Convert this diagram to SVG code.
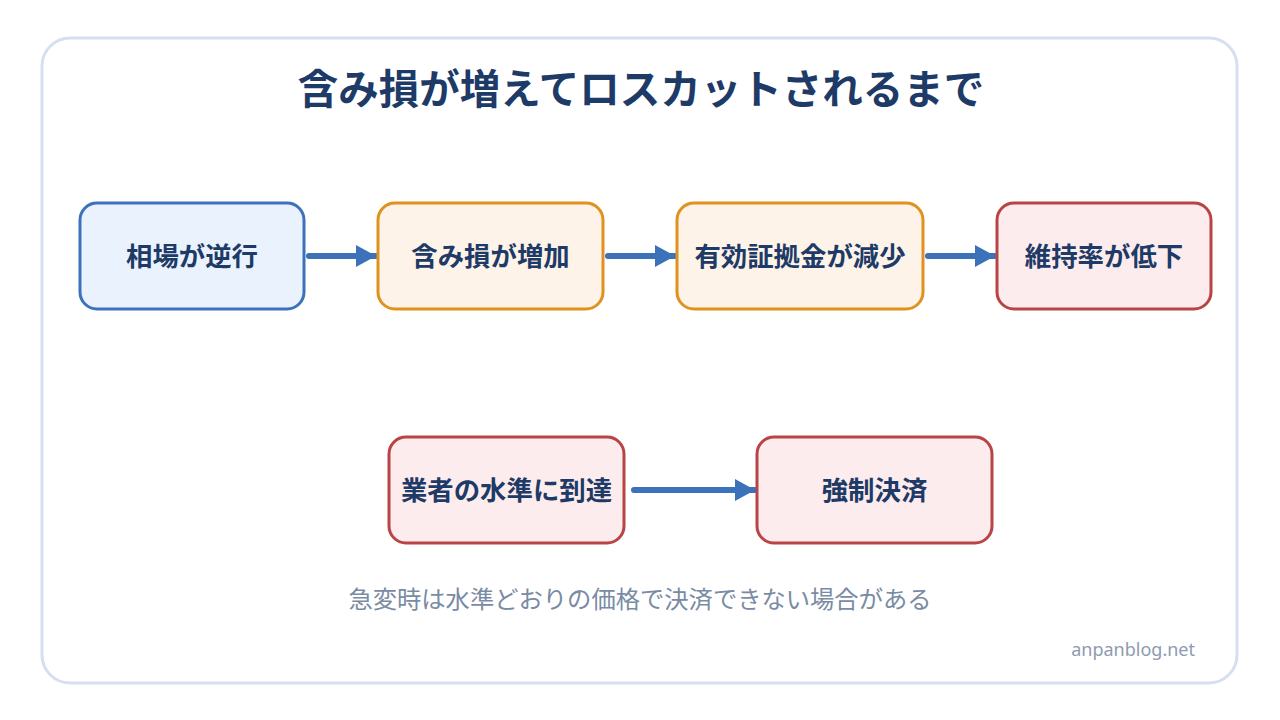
<svg xmlns="http://www.w3.org/2000/svg" width="1280" height="720" viewBox="0 0 1280 720">
<defs>
<style>
.node-blue{fill:#eaf2fd;stroke:#3b72b9;stroke-width:3}
.node-orange{fill:#fdf3e8;stroke:#e0911e;stroke-width:3}
.node-red{fill:#fdeced;stroke:#b94446;stroke-width:3}
.lbl{font-family:"Noto Sans CJK JP","Noto Sans",sans-serif;font-weight:700;font-size:26.4px;fill:#1e3a67;text-anchor:middle;dominant-baseline:central}
.conn{stroke:#3b72b9;stroke-width:6;stroke-linecap:round;fill:none}
</style>
<marker id="ah" markerUnits="userSpaceOnUse" markerWidth="24" markerHeight="24" refX="22" refY="12" orient="auto">
<path d="M2,1 L22,12 L2,23 Z" fill="#3b72b9"/>
</marker>
</defs>
<rect width="1280" height="720" fill="#ffffff"/>
<rect x="42" y="38" width="1195" height="645" rx="28" fill="#ffffff" stroke="#d6dfef" stroke-width="3"/>
<text x="641" y="86" font-family="'Noto Sans CJK JP','Noto Sans',sans-serif" font-weight="700" font-size="40.5" fill="#1e3a67" text-anchor="middle" dominant-baseline="central">含み損が増えてロスカットされるまで</text>
<g id="connectors">
<line class="conn" x1="309" y1="256" x2="376" y2="256" marker-end="url(#ah)"/>
<line class="conn" x1="608" y1="256" x2="675" y2="256" marker-end="url(#ah)"/>
<line class="conn" x1="928" y1="256" x2="995" y2="256" marker-end="url(#ah)"/>
<line class="conn" x1="634" y1="490" x2="755" y2="490" marker-end="url(#ah)"/>
</g>
<g id="n1"><rect class="node-blue" x="80" y="203" width="224" height="106" rx="17"/><text class="lbl" x="192" y="254">相場が逆行</text></g>
<g id="n2"><rect class="node-orange" x="378" y="203" width="225" height="106" rx="17"/><text class="lbl" x="490.5" y="254">含み損が増加</text></g>
<g id="n3"><rect class="node-orange" x="677" y="203" width="246" height="106" rx="17"/><text class="lbl" x="800" y="254">有効証拠金が減少</text></g>
<g id="n4"><rect class="node-red" x="997" y="203" width="214" height="106" rx="17"/><text class="lbl" x="1104" y="254">維持率が低下</text></g>
<g id="n5"><rect class="node-red" x="389" y="437" width="235" height="106" rx="17"/><text class="lbl" x="506.5" y="488">業者の水準に到達</text></g>
<g id="n6"><rect class="node-red" x="757" y="437" width="235" height="106" rx="17"/><text class="lbl" x="874.5" y="488">強制決済</text></g>
<text x="640" y="597" font-family="'Noto Sans CJK JP','Noto Sans',sans-serif" font-size="24.3" fill="#7a8ba4" text-anchor="middle" dominant-baseline="central">急変時は水準どおりの価格で決済できない場合がある</text>
<text x="1195" y="649" font-family="'Noto Sans','Open Sans',sans-serif" font-size="18" fill="#8e9bb0" text-anchor="end" dominant-baseline="central">anpanblog.net</text>
</svg>
